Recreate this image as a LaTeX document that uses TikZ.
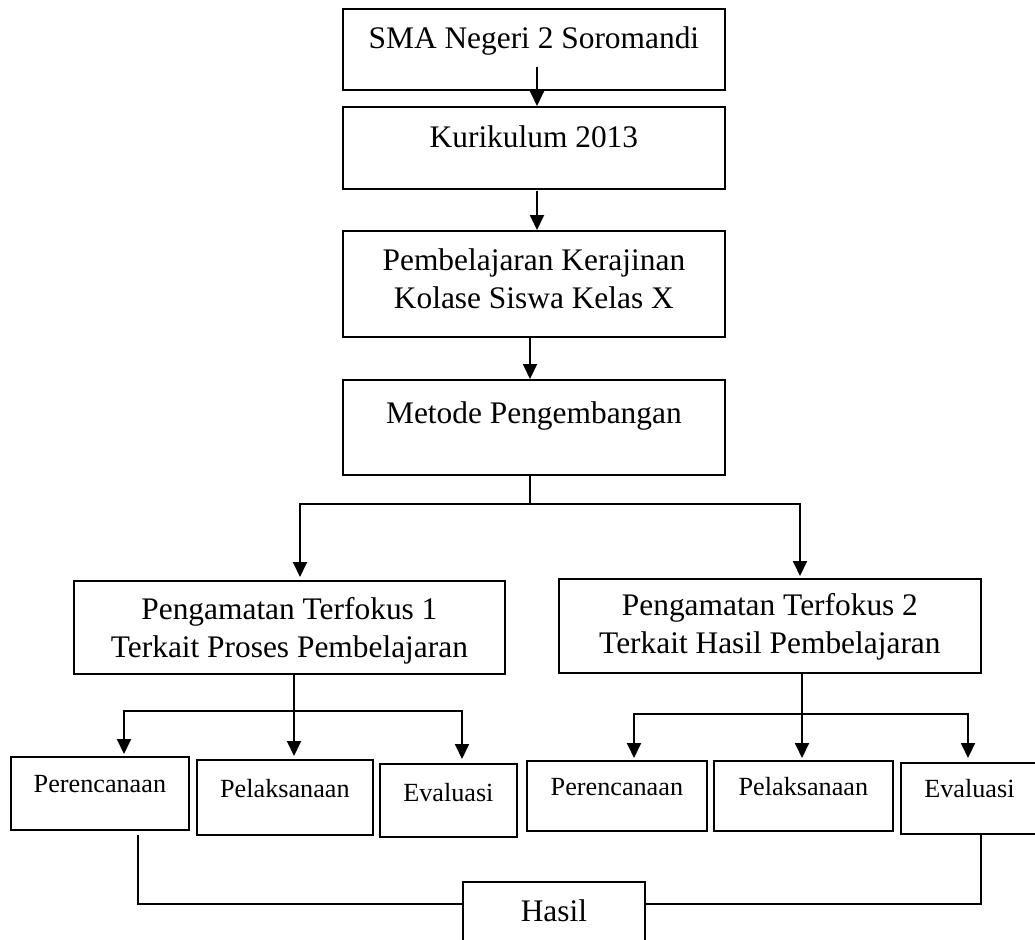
\documentclass[tikz,border=0pt]{standalone}
\usepackage{fontspec}
\setmainfont{Liberation Serif}
\usetikzlibrary{arrows.meta,calc}
\begin{document}
\begin{tikzpicture}[x=1pt,y=-1pt,
  box/.style={draw, line width=1.8pt, inner sep=0pt, anchor=north west},
  big/.style={font=\fontsize{31.4}{37.5}\selectfont, inner sep=0pt, anchor=base, align=center},
  small/.style={font=\fontsize{26.2}{31}\selectfont, inner sep=0pt, anchor=base},
  conn/.style={line width=1.9pt},
  arr/.style={conn, -{Triangle[length=15pt,width=14pt]}}]
\useasboundingbox (0,0) rectangle (1035,939);

% main column
\node[box, minimum width=382pt, minimum height=81pt] (b1) at (342,8) {};
\node[big] (t1) at ($(b1.north)+(0,41)$) {SMA Negeri 2 Soromandi};
\node[box, minimum width=382pt, minimum height=82pt] (b2) at (342,106) {};
\node[big] (t2) at ($(b2.north)+(0,41)$) {Kurikulum 2013};
\node[box, minimum width=382pt, minimum height=106pt] (b3) at (342,230) {};
\node[big] (t3) at ($(b3.north)+(0,78)$) {Pembelajaran Kerajinan\\Kolase Siswa Kelas X};
\node[box, minimum width=382pt, minimum height=95pt] (b4) at (342,379) {};
\node[big] (t4) at ($(b4.north)+(0,44)$) {Metode Pengembangan};

% second level
\node[box, minimum width=431pt, minimum height=93pt] (b5) at (73,580) {};
\node[big] (t5) at ($(b5.north)+(0,77)$) {Pengamatan Terfokus 1\\Terkait Proses Pembelajaran};
\node[box, minimum width=422pt, minimum height=94pt] (b6) at (558,578) {};
\node[big] (t6) at ($(b6.north)+(0,75)$) {Pengamatan Terfokus 2\\Terkait Hasil Pembelajaran};

% third level
\node[box, minimum width=178pt, minimum height=73pt] (l1) at (10,756) {};
\node[small] (tl1) at ($(l1.north)+(0,36)$) {Perencanaan};
\node[box, minimum width=176pt, minimum height=75pt] (l2) at (196,759) {};
\node[small] (tl2) at ($(l2.north)+(0,38)$) {Pelaksanaan};
\node[box, minimum width=137pt, minimum height=73pt] (l3) at (379,763) {};
\node[small] (tl3) at ($(l3.north)+(0,38)$) {Evaluasi};
\node[box, minimum width=180pt, minimum height=70pt] (r1) at (526,760) {};
\node[small] (tr1) at ($(r1.north)+(0,35)$) {Perencanaan};
\node[box, minimum width=179pt, minimum height=70pt] (r2) at (713,760) {};
\node[small] (tr2) at ($(r2.north)+(0,35)$) {Pelaksanaan};
\node[box, minimum width=137pt, minimum height=71pt] (r3) at (900,762) {};
\node[small] (tr3) at ($(r3.north)+(0,35)$) {Evaluasi};

% result
\node[box, minimum width=182pt, minimum height=94pt] (h) at (462,881) {};
\node[big] (th) at ($(h.north)+(0,40)$) {Hasil};

% connectors of the column
\coordinate (s1) at (537,67);
\draw[arr] (s1) -- (s1 |- b2.north);
\coordinate (s2) at (537,191);
\draw[arr] (s2) -- (s2 |- b3.north);
\coordinate (s3) at (530,338);
\draw[arr] (s3) -- (s3 |- b4.north);

% split to the two observations
\coordinate (j1) at (530,504);
\coordinate (j1l) at (300,504);
\coordinate (j1r) at (800,504);
\draw[conn] (b4.south -| j1) -- (j1);
\draw[arr] (j1) -- (j1l) -- ($(j1l |- b5.north)+(0,-3)$);
\draw[arr] (j1) -- (j1r) -- ($(j1r |- b6.north)+(0,-2)$);

% split below observation 1
\coordinate (j2) at (294,711);
\coordinate (j2l) at (124,711);
\coordinate (j2r) at (462,711);
\draw[conn] (b5.south -| j2) -- (j2);
\draw[arr] (j2) -- (j2l) -- ($(j2l |- l1.north)+(0,-2)$);
\draw[arr] (j2) -- ($(j2 |- l2.north)+(0,-3)$);
\draw[arr] (j2) -- (j2r) -- ($(j2r |- l3.north)+(0,-4)$);

% split below observation 2
\coordinate (j3) at (802,714);
\coordinate (j3l) at (634,714);
\coordinate (j3r) at (968,714);
\draw[conn] (b6.south -| j3) -- (j3);
\draw[arr] (j3) -- (j3l) -- ($(j3l |- r1.north)+(0,-2)$);
\draw[arr] (j3) -- ($(j3 |- r2.north)+(0,-2)$);
\draw[arr] (j3) -- (j3r) -- ($(j3r |- r3.north)+(0,-4)$);

% to the result
\coordinate (e1) at (138,835);
\coordinate (e2) at (981,833);
\draw[conn] (e1) |- ([yshift=-23pt]h.north west);
\draw[conn] (e2) |- ([yshift=-23pt]h.north east);
\end{tikzpicture}
\end{document}
